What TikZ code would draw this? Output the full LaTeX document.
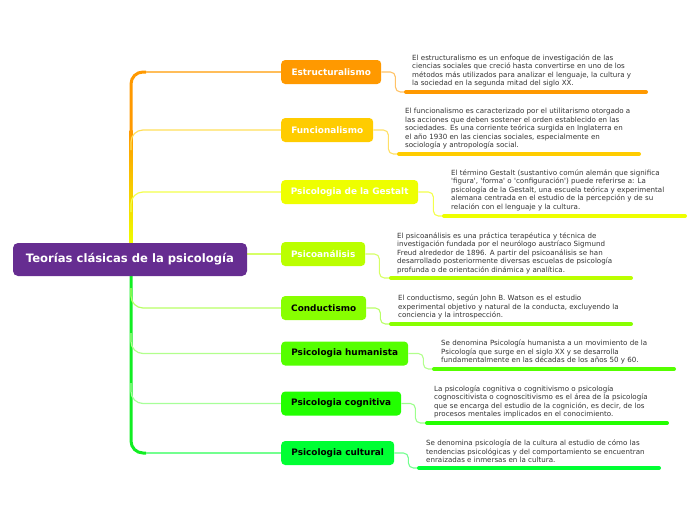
\documentclass[tikz,border=0pt]{standalone}
\usepackage{fontspec}
\setmainfont{DejaVu Sans}
\usetikzlibrary{backgrounds}
\definecolor{c1}{HTML}{FF9900}
\definecolor{c2}{HTML}{FFCC00}
\definecolor{c3}{HTML}{EEFF00}
\definecolor{c4}{HTML}{BBFF00}
\definecolor{c5}{HTML}{88FF00}
\definecolor{c6}{HTML}{55FF00}
\definecolor{c7}{HTML}{22FF00}
\definecolor{c8}{HTML}{00FF33}
\definecolor{tg}{HTML}{11EE22}
\definecolor{rootc}{HTML}{662D91}
\definecolor{txt}{HTML}{333333}
\tikzset{
  branch/.style={rounded corners=4pt, inner sep=0pt, minimum height=24pt, font=\fontsize{8.9}{10}\selectfont\bfseries, anchor=west},
  desc/.style={anchor=west, align=left, inner sep=0pt, text=txt, font=\fontsize{7.1}{8.5}\selectfont},
  bar/.style={line width=4pt, line cap=round},
  link/.style={line width=1.1pt, rounded corners=5pt},
  limb/.style={line width=1.2pt, rounded corners=12pt},
  trunk/.style={line width=3pt, rounded corners=12pt},
}
\begin{document}
\begin{tikzpicture}[x=1pt,y=-1pt]
\useasboundingbox (0,0) rectangle (696,520);
% root
\node[fill=rootc, rounded corners=5pt, minimum width=234pt, minimum height=33pt, inner sep=0pt, text=white, font=\fontsize{11.6}{13}\selectfont\bfseries] (root) at (130,259.5) {Teorías clásicas de la psicología};
% branches
\node[branch, fill=c1, text=white, minimum width=100pt] (n1) at (281,72) {Estructuralismo};
\node[branch, fill=c2, text=white, minimum width=92pt] (n2) at (281,130) {Funcionalismo};
\node[branch, fill=c3, text=white, minimum width=137pt] (n3) at (281,192) {Psicologia de la Gestalt};
\node[branch, fill=c4, text=white, minimum width=84pt] (n4) at (281,254) {Psicoanálisis};
\node[branch, fill=c5, text=black, minimum width=85pt] (n5) at (281,308) {Conductismo};
\node[branch, fill=c6, text=black, minimum width=127pt] (n6) at (281,353.5) {Psicologia humanista};
\node[branch, fill=c7, text=black, minimum width=120pt] (n7) at (281,403.5) {Psicologia cognitiva};
\node[branch, fill=c8, text=black, minimum width=113pt] (n8) at (281,453) {Psicologia cultural};
% descriptions
\node[desc] (d1) at (412,70.75) {El estructuralismo es un enfoque de investigación de las\\ciencias sociales que creció hasta convertirse en uno de los\\métodos más utilizados para analizar el lenguaje, la cultura y\\la sociedad en la segunda mitad del siglo XX.};
\node[desc] (d2) at (405,129) {El funcionalismo es caracterizado por el utilitarismo otorgado a\\las acciones que deben sostener el orden establecido en las\\sociedades. Es una corriente teórica surgida en Inglaterra en\\el año 1930 en las ciencias sociales, especialmente en\\sociología y antropología social.};
\node[desc] (d3) at (451,190) {El término Gestalt (sustantivo común alemán que significa\\\textquotesingle figura\textquotesingle, \textquotesingle forma\textquotesingle{} o \textquotesingle configuración\textquotesingle) puede referirse a: La\\psicología de la Gestalt, una escuela teórica y experimental\\alemana centrada en el estudio de la percepción y de su\\relación con el lenguaje y la cultura.};
\node[desc] (d4) at (397,253) {El psicoanálisis es una práctica terapéutica y técnica de\\investigación fundada por el neurólogo austríaco Sigmund\\Freud alrededor de 1896. A partir del psicoanálisis se han\\desarrollado posteriormente diversas escuelas de psicología\\profunda o de orientación dinámica y analítica.};
\node[desc] (d5) at (398,307) {El conductismo, según John B. Watson es el estudio\\experimental objetivo y natural de la conducta, excluyendo la\\conciencia y la introspección.};
\node[desc] (d6) at (441,352) {Se denomina Psicología humanista a un movimiento de la\\Psicología que surge en el siglo XX y se desarrolla\\fundamentalmente en las décadas de los años 50 y 60.};
\node[desc] (d7) at (434,401.75) {La psicología cognitiva o cognitivismo o psicología\\cognoscitivista o cognoscitivismo es el área de la psicología\\que se encarga del estudio de la cognición, es decir, de los\\procesos mentales implicados en el conocimiento.};
\node[desc] (d8) at (426,451.5) {Se denomina psicología de la cultura al estudio de cómo las\\tendencias psicológicas y del comportamiento se encuentran\\enraizadas e inmersas en la cultura.};
% bar coordinates
\coordinate (b1s) at (406,92);  \coordinate (b1e) at (646,92);
\coordinate (b2s) at (399,154); \coordinate (b2e) at (639,154);
\coordinate (b3s) at (444,216); \coordinate (b3e) at (685,216);
\coordinate (b4s) at (391,278); \coordinate (b4e) at (631,278);
\coordinate (b5s) at (391,324); \coordinate (b5e) at (631,324);
\coordinate (b6s) at (434,369); \coordinate (b6e) at (674,369);
\coordinate (b7s) at (427,423); \coordinate (b7e) at (667,423);
\coordinate (b8s) at (419,468); \coordinate (b8e) at (659,468);
% trunk coordinates
\coordinate (ttop) at (131,135);
\coordinate (t1) at (146,72);
\coordinate (tbot) at (131,274);
\coordinate (t8) at (146,453);
\coordinate (t2) at (131,150);
\coordinate (t3) at (131,212);
\coordinate (t5) at (131,288);
\coordinate (t6) at (131,333);
\coordinate (t7) at (131,383);
\begin{scope}[on background layer]
  \shade[top color=c1, middle color=c2, bottom color=c3] (129.5,130) rectangle (132.5,246);
  \draw[trunk, c1] (ttop) |- (t1);
  \draw[trunk, tg] (tbot) |- (t8);
  \draw[limb, c1!65] (t1) -- (n1.west);
  \draw[limb, c2!65] (t2) |- (n2.west);
  \draw[limb, c3!70] (t3) |- (n3.west);
  \draw[limb, c4!60] (root.east |- n4.west) -- (n4.west);
  \draw[limb, c5!60] (t5) |- (n5.west);
  \draw[limb, c6!45] (t6) |- (n6.west);
  \draw[limb, c7!40] (t7) |- (n7.west);
  \draw[limb, c8!55] (t8) -- (n8.west);
\end{scope}
% links and bars
\draw[link, c1!60] (n1.east) -- ++(14,0) |- (b1s);
\draw[link, c2!60] (n2.east) -- ++(15,0) |- (b2s);
\draw[link, c3!70] (n3.east) -- ++(15,0) |- (b3s);
\draw[link, c4!60] (n4.east) -- ++(14,0) |- (b4s);
\draw[link, c5!60] (n5.east) -- ++(14,0) |- (b5s);
\draw[link, c6!45] (n6.east) -- ++(15,0) |- (b6s);
\draw[link, c7!45] (n7.east) -- ++(14,0) |- (b7s);
\draw[link, c8!55] (n8.east) -- ++(14,0) |- (b8s);
\draw[bar, c1] (b1s) -- (b1e);
\draw[bar, c2] (b2s) -- (b2e);
\draw[bar, c3] (b3s) -- (b3e);
\draw[bar, c4] (b4s) -- (b4e);
\draw[bar, c5] (b5s) -- (b5e);
\draw[bar, c6] (b6s) -- (b6e);
\draw[bar, c7] (b7s) -- (b7e);
\draw[bar, c8] (b8s) -- (b8e);
\end{tikzpicture}
\end{document}
